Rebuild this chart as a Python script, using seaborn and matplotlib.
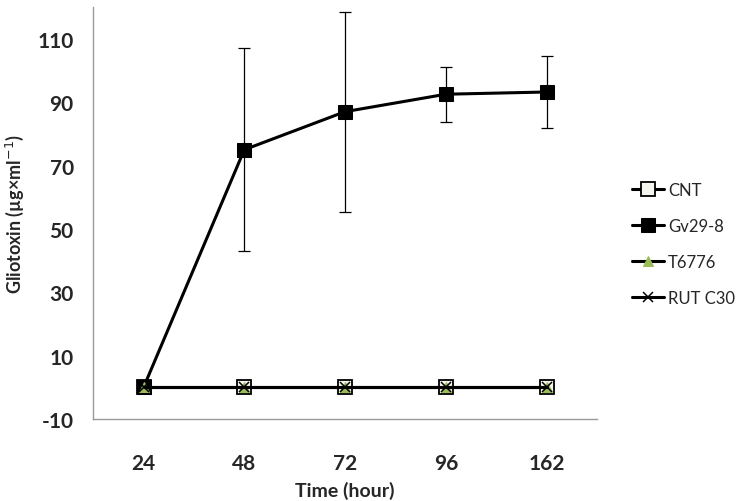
import matplotlib
matplotlib.use("Agg")
import matplotlib.pyplot as plt
import seaborn as sns
import pandas as pd

times = ["24", "48", "72", "96", "162"]
cnt = [0, 0, 0, 0, 0]
gv29_8 = [0, 75, 87, 92.5, 93.2]
gv29_8_err = [0, 32, 31.5, 8.7, 11.3]
t6776 = [0, 0, 0, 0, 0]
rut_c30 = [0, 0, 0, 0, 0]

series = ["CNT", "Gv29-8", "T6776", "RUT C30"]
values = [cnt, gv29_8, t6776, rut_c30]

rows = []
for name, vals in zip(series, values):
    for i, v in enumerate(vals):
        rows.append({"pos": i, "time": times[i], "series": name, "value": v})
df = pd.DataFrame(rows)

sns.set_style("white")
plt.rcParams["font.family"] = ["Lato", "DejaVu Sans"]
plt.rcParams["axes.unicode_minus"] = False

fig = plt.figure(figsize=(7.39, 5.02), dpi=100)
ax = fig.add_axes([0.126, 0.163, 0.682, 0.821])

styles = {
    "CNT": dict(marker="s", markerfacecolor="#f4f6ee", markeredgecolor="black", markersize=10.5, markeredgewidth=1.3),
    "Gv29-8": dict(marker="s", markerfacecolor="black", markeredgecolor="black", markersize=10),
    "T6776": dict(marker="^", markerfacecolor="#9bbb59", markeredgecolor="#9bbb59", markersize=7.5),
    "RUT C30": dict(marker="x", markerfacecolor="black", markeredgecolor="black", markersize=7, markeredgewidth=1.1),
}

# error bars for Gv29-8 behind the lines
ax.errorbar(range(len(times)), gv29_8, yerr=gv29_8_err, fmt="none",
            ecolor="black", elinewidth=0.9, capsize=4, capthick=0.9, zorder=1)

for name in series:
    sub = df[df["series"] == name]
    sns.lineplot(data=sub, x="pos", y="value", ax=ax, color="black",
                 linewidth=2.2, label=name, zorder=3, **styles[name])

ax.set_xlim(-0.5, len(times) - 0.5)
ax.set_ylim(-10, 120)
ax.set_yticks(range(-10, 111, 20))
ax.set_xticks(range(len(times)))
ax.set_xticklabels(times)
ax.set_xticks([i + 0.5 for i in range(len(times) - 1)], minor=True)

for lbl in ax.get_xticklabels() + ax.get_yticklabels():
    lbl.set_fontweight("bold")
    lbl.set_fontsize(15)

ax.tick_params(axis="x", which="major", length=0, pad=24)
ax.tick_params(axis="x", which="minor", length=5, width=1, color="#999999", direction="out")
ax.tick_params(axis="y", which="major", length=5, width=1, color="#999999", direction="out", pad=9)

ax.set_xlabel("Time (hour)", fontsize=14, fontweight="bold", labelpad=6)
ax.set_ylabel("Gliotoxin (µg×ml$^{-1}$)", fontsize=13, fontweight="bold", labelpad=8)

sns.despine(ax=ax)
for sp in ["left", "bottom"]:
    ax.spines[sp].set_color("#999999")
    ax.spines[sp].set_linewidth(1)

ax.legend(loc="center left", bbox_to_anchor=(1.04, 0.425), frameon=False,
          fontsize=12, handlelength=1.9, labelspacing=1.2, handletextpad=0.25)

fig.savefig("out.png", dpi=100)
